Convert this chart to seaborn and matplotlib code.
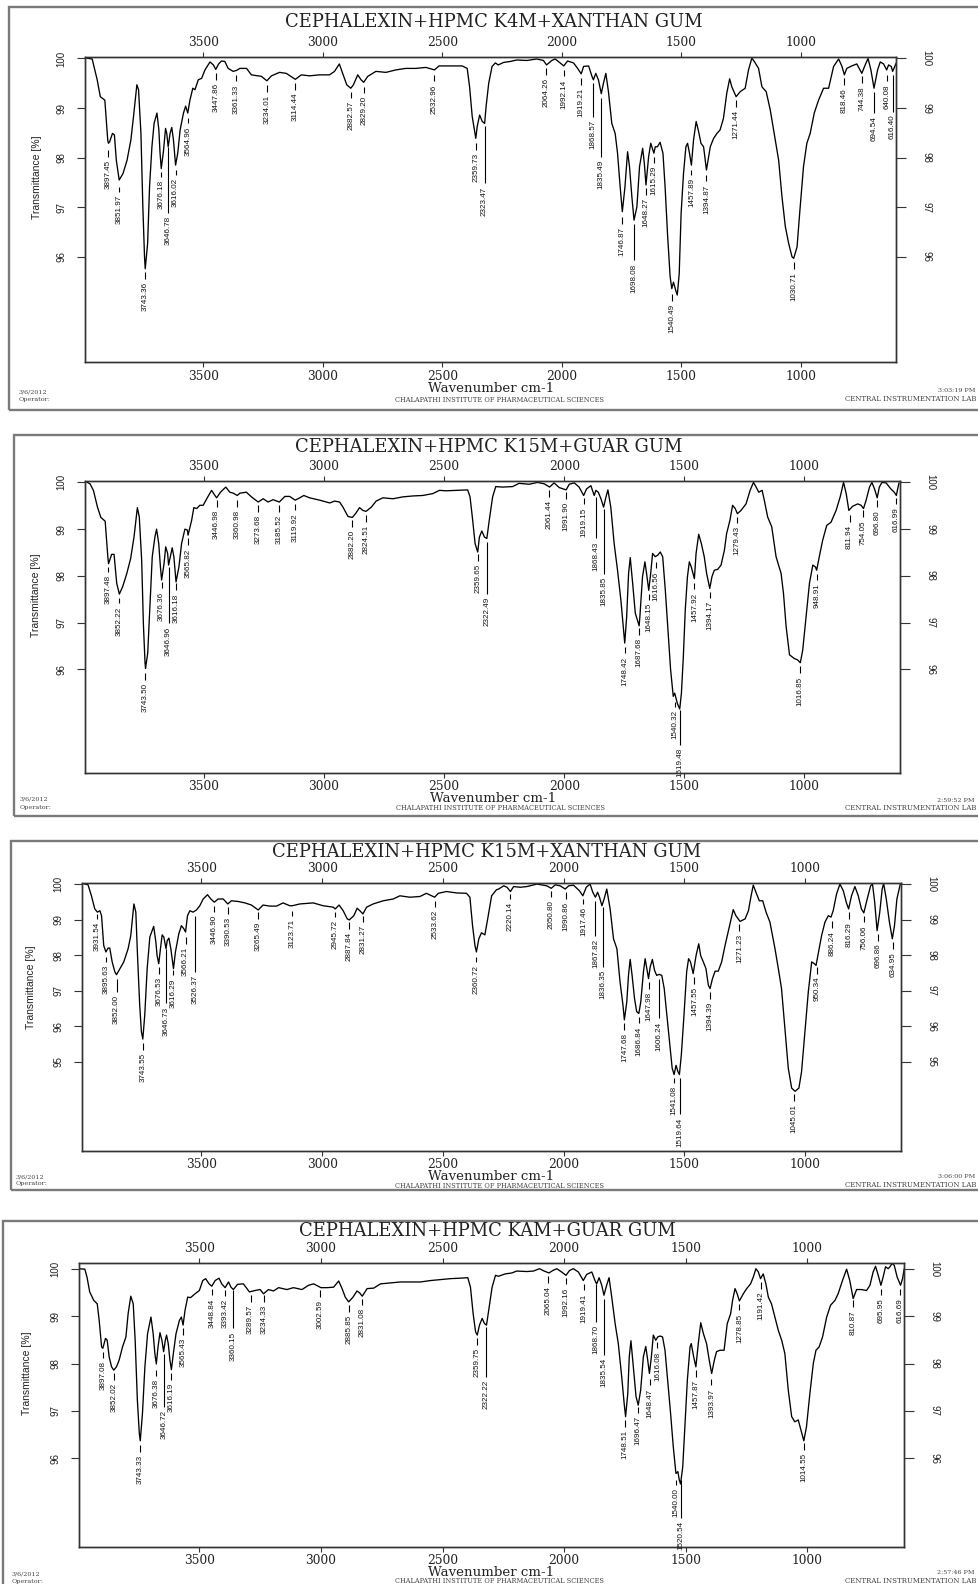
import matplotlib
matplotlib.use("Agg")
import matplotlib.pyplot as plt
from matplotlib.patches import Rectangle
import seaborn as sns
import pandas as pd

sns.set_style("ticks")
plt.rcParams["font.family"] = ["DejaVu Serif"]
SANS = ["Liberation Sans Narrow", "Liberation Sans", "DejaVu Sans"]

FIG_W, FIG_H = 979, 1584

titles = [
    "CEPHALEXIN+HPMC K4M+XANTHAN GUM",
    "CEPHALEXIN+HPMC K15M+GUAR GUM",
    "CEPHALEXIN+HPMC K15M+XANTHAN GUM",
    "CEPHALEXIN+HPMC KAM+GUAR GUM",
]
run_times = ["3:03:19 PM", "2:59:52 PM", "3:06:00 PM", "2:57:46 PM"]
run_date = "3/6/2012"
x_ticks = [3500, 3000, 2500, 2000, 1500, 1000]

# ---- spectrum 1: K4M + xanthan gum ----
k4m_xg_wn = [
    3992, 3965, 3944, 3931, 3912, 3900, 3897, 3892, 3880, 3872,
    3864, 3852, 3836, 3819, 3803, 3792, 3778, 3771, 3761, 3753,
    3746, 3743, 3733, 3725, 3715, 3706, 3694, 3686, 3681, 3676,
    3667, 3658, 3653, 3647, 3639, 3632, 3625, 3616, 3607, 3597,
    3583, 3574, 3565, 3556, 3544, 3535, 3521, 3507, 3493, 3472,
    3458, 3448, 3436, 3424, 3410, 3396, 3375, 3361, 3347, 3319,
    3299, 3257, 3234, 3215, 3181, 3153, 3115, 3090, 3056, 3014,
    2972, 2951, 2931, 2917, 2900, 2883, 2872, 2854, 2840, 2829,
    2812, 2778, 2736, 2694, 2653, 2611, 2569, 2533, 2514, 2458,
    2417, 2396, 2386, 2375, 2360, 2354, 2344, 2333, 2323, 2317,
    2306, 2292, 2278, 2266, 2244, 2216, 2188, 2146, 2105, 2077,
    2064, 2042, 2028, 2007, 1992, 1976, 1951, 1934, 1919, 1909,
    1888, 1874, 1868, 1858, 1847, 1835, 1826, 1816, 1805, 1791,
    1777, 1767, 1756, 1747, 1736, 1725, 1717, 1707, 1698, 1686,
    1675, 1662, 1655, 1648, 1637, 1628, 1615, 1609, 1600, 1589,
    1577, 1568, 1558, 1547, 1540, 1533, 1524, 1517, 1509, 1501,
    1491, 1481, 1474, 1466, 1458, 1449, 1438, 1428, 1418, 1407,
    1395, 1379, 1365, 1351, 1338, 1324, 1310, 1298, 1289, 1271,
    1254, 1233, 1219, 1205, 1191, 1177, 1163, 1145, 1128, 1107,
    1093, 1079, 1065, 1051, 1037, 1030, 1016, 1005, 989, 975,
    961, 944, 926, 905, 884, 863, 842, 828, 818, 808,
    787, 766, 745, 731, 719, 707, 694, 679, 668, 654,
    641, 633, 622, 616, 601,
]
k4m_xg_t = [
    100.01, 99.99, 99.57, 99.23, 99.16, 98.36, 98.29, 98.32, 98.49, 98.46,
    97.95, 97.55, 97.68, 97.95, 98.36, 98.83, 99.47, 99.37, 98.49, 97.01,
    96.00, 95.76, 96.27, 97.41, 98.22, 98.69, 98.90, 98.56, 98.09, 97.78,
    98.12, 98.59, 98.49, 98.22, 98.49, 98.61, 98.36, 97.85, 98.09, 98.56,
    98.90, 99.04, 98.90, 99.16, 99.40, 99.37, 99.57, 99.60, 99.77, 99.93,
    99.87, 99.78, 99.89, 99.95, 99.94, 99.80, 99.74, 99.76, 99.80, 99.80,
    99.67, 99.64, 99.55, 99.65, 99.72, 99.70, 99.58, 99.67, 99.65, 99.67,
    99.67, 99.74, 99.89, 99.70, 99.47, 99.40, 99.47, 99.67, 99.57, 99.52,
    99.64, 99.74, 99.72, 99.77, 99.80, 99.80, 99.82, 99.77, 99.85, 99.85,
    99.85, 99.80, 99.43, 98.83, 98.39, 98.63, 98.86, 98.73, 98.69, 99.03,
    99.50, 99.84, 99.91, 99.87, 99.92, 99.94, 99.97, 99.96, 99.99, 99.96,
    99.87, 99.96, 99.99, 99.91, 99.85, 99.95, 99.91, 99.80, 99.69, 99.84,
    99.85, 99.64, 99.57, 99.70, 99.57, 99.29, 99.50, 99.70, 99.33, 98.69,
    98.49, 98.09, 97.41, 96.91, 97.41, 98.12, 97.82, 97.21, 96.74, 97.01,
    97.82, 98.19, 97.89, 97.45, 98.02, 98.29, 98.09, 98.22, 98.22, 98.31,
    98.09, 97.41, 96.47, 95.60, 95.36, 95.49, 95.33, 95.23, 95.66, 96.88,
    97.68, 98.22, 98.29, 98.09, 97.85, 98.36, 98.73, 98.53, 98.29, 98.22,
    97.75, 98.22, 98.39, 98.49, 98.56, 98.79, 99.30, 99.59, 99.43, 99.23,
    99.33, 99.40, 99.77, 100.01, 99.91, 99.80, 99.43, 99.33, 98.96, 98.36,
    97.95, 97.21, 96.61, 96.27, 96.00, 95.97, 96.20, 96.88, 97.82, 98.29,
    98.49, 98.90, 99.16, 99.40, 99.40, 99.84, 99.99, 99.84, 99.67, 99.80,
    99.85, 99.89, 99.70, 99.87, 100.00, 99.77, 99.40, 99.77, 99.93, 99.89,
    99.77, 99.87, 99.84, 99.74, 99.91,
]
k4m_xg_peaks = [
    3897.45, 3851.97, 3743.36, 3676.18, 3646.78, 3616.02, 3564.96, 3447.86, 3361.33,
    3234.01, 3114.44, 2882.57, 2829.20, 2532.96, 2359.73, 2323.47, 2064.26, 1992.14,
    1919.21, 1868.57, 1835.49, 1746.87, 1698.08, 1648.27, 1615.29, 1540.49, 1457.89,
    1394.87, 1271.44, 1030.71, 818.46, 744.38, 694.54, 640.08, 616.40,
]
k4m_xg_mark_top = [
    98.15, 97.41, 95.70, 97.72, 98.22, 97.75, 98.79, 99.70, 99.67,
    99.47, 99.50, 99.33, 99.43, 99.67, 98.29, 98.63, 99.80, 99.77,
    99.60, 99.50, 99.20, 96.81, 96.67, 97.38, 98.02, 95.26, 97.75,
    97.65, 99.16, 95.90, 99.60, 99.64, 99.33, 99.67, 99.67,
]
k4m_xg_mark_end = [
    98.02, 97.31, 95.56, 97.62, 96.88, 97.65, 98.69, 99.57, 99.54,
    99.33, 99.37, 99.20, 99.30, 99.54, 98.15, 97.48, 99.67, 99.64,
    99.47, 98.83, 98.02, 96.67, 95.93, 97.25, 97.89, 95.12, 97.65,
    97.52, 99.03, 95.76, 99.47, 99.50, 98.90, 99.54, 98.93,
]

# ---- spectrum 2: K15M + guar gum ----
k15m_gg_wn = [
    3992, 3974, 3960, 3943, 3929, 3911, 3900, 3897, 3884, 3874,
    3863, 3852, 3838, 3821, 3805, 3791, 3777, 3769, 3759, 3752,
    3745, 3743, 3734, 3724, 3715, 3704, 3697, 3688, 3681, 3676,
    3666, 3659, 3651, 3647, 3637, 3632, 3625, 3616, 3604, 3593,
    3579, 3569, 3566, 3551, 3542, 3530, 3517, 3503, 3486, 3468,
    3454, 3447, 3431, 3409, 3392, 3378, 3361, 3350, 3323, 3302,
    3274, 3253, 3233, 3212, 3186, 3163, 3143, 3120, 3101, 3084,
    3060, 3018, 2976, 2956, 2935, 2921, 2900, 2882, 2869, 2852,
    2838, 2825, 2803, 2783, 2755, 2713, 2672, 2630, 2589, 2547,
    2519, 2492, 2450, 2402, 2392, 2381, 2371, 2360, 2353, 2343,
    2332, 2322, 2312, 2298, 2285, 2257, 2215, 2188, 2146, 2111,
    2083, 2061, 2042, 2021, 1992, 1979, 1958, 1938, 1919, 1907,
    1889, 1875, 1868, 1858, 1847, 1836, 1826, 1818, 1806, 1792,
    1778, 1764, 1748, 1740, 1732, 1725, 1715, 1704, 1688, 1685,
    1674, 1664, 1657, 1648, 1640, 1632, 1621, 1611, 1600, 1590,
    1579, 1568, 1557, 1546, 1540, 1529, 1519, 1512, 1504, 1496,
    1487, 1479, 1471, 1458, 1451, 1440, 1429, 1417, 1407, 1394,
    1385, 1375, 1361, 1347, 1333, 1324, 1310, 1299, 1288, 1279,
    1264, 1243, 1226, 1212, 1201, 1190, 1176, 1167, 1153, 1136,
    1118, 1097, 1087, 1076, 1062, 1042, 1028, 1017, 1007, 993,
    979, 965, 954, 949, 938, 924, 907, 889, 868, 851,
    837, 826, 815, 799, 778, 764, 754, 743, 729, 719,
    708, 697, 688, 677, 660, 640, 626, 617, 613, 606,
]
k15m_gg_t = [
    100.02, 99.97, 99.83, 99.47, 99.25, 99.17, 98.41, 98.26, 98.46, 98.46,
    97.84, 97.61, 97.77, 98.05, 98.37, 98.83, 99.46, 99.26, 98.33, 96.98,
    96.13, 96.02, 96.34, 97.41, 98.41, 98.83, 99.00, 98.69, 98.19, 97.91,
    98.26, 98.62, 98.48, 98.23, 98.48, 98.60, 98.41, 97.87, 98.19, 98.69,
    99.00, 98.98, 98.87, 99.19, 99.46, 99.44, 99.51, 99.51, 99.67, 99.83,
    99.72, 99.67, 99.79, 99.90, 99.79, 99.77, 99.72, 99.77, 99.79, 99.69,
    99.58, 99.65, 99.58, 99.63, 99.58, 99.70, 99.70, 99.62, 99.67, 99.72,
    99.67, 99.62, 99.56, 99.60, 99.58, 99.47, 99.27, 99.25, 99.33, 99.46,
    99.40, 99.38, 99.47, 99.60, 99.67, 99.65, 99.69, 99.71, 99.72, 99.76,
    99.83, 99.82, 99.83, 99.84, 99.69, 99.19, 98.69, 98.51, 98.83, 98.96,
    98.83, 98.80, 99.19, 99.69, 99.91, 99.90, 99.91, 99.98, 99.96, 100.00,
    99.97, 99.90, 99.99, 99.89, 99.84, 99.96, 99.99, 99.90, 99.72, 99.86,
    99.93, 99.72, 99.83, 99.79, 99.65, 99.47, 99.69, 99.84, 99.47, 98.69,
    98.12, 97.48, 96.56, 97.12, 98.05, 98.39, 97.84, 97.20, 96.93, 97.12,
    97.98, 98.30, 98.05, 97.69, 98.05, 98.48, 98.41, 98.44, 98.51, 98.41,
    97.69, 96.84, 95.99, 95.42, 95.49, 95.27, 95.15, 95.49, 96.27, 97.27,
    97.98, 98.30, 98.19, 97.94, 98.48, 98.89, 98.69, 98.41, 98.05, 97.73,
    97.98, 98.12, 98.14, 98.23, 98.55, 98.90, 99.19, 99.51, 99.44, 99.33,
    99.40, 99.54, 99.83, 100.00, 99.90, 99.79, 99.83, 99.62, 99.26, 99.05,
    98.41, 98.05, 97.62, 96.91, 96.31, 96.23, 96.20, 96.14, 96.41, 97.12,
    97.84, 98.23, 98.19, 98.12, 98.41, 98.76, 99.08, 99.15, 99.40, 99.69,
    100.00, 99.76, 99.40, 99.49, 99.54, 99.51, 99.44, 99.62, 99.90, 100.00,
    99.86, 99.67, 99.90, 100.00, 99.99, 99.86, 99.79, 99.72, 99.83, 99.99,
]
k15m_gg_peaks = [
    3897.48, 3852.22, 3743.50, 3676.36, 3646.96, 3616.18, 3565.82, 3446.98, 3360.98,
    3273.68, 3185.52, 3119.92, 2882.20, 2824.51, 2359.65, 2322.49, 2061.44, 1991.90,
    1919.15, 1868.43, 1835.85, 1748.42, 1687.68, 1648.15, 1616.56, 1540.32, 1519.48,
    1457.92, 1394.17, 1279.43, 1016.85, 948.91, 811.94, 754.05, 696.80, 616.99,
]
k15m_gg_mark_top = [
    98.19, 97.52, 95.91, 97.87, 98.19, 97.84, 98.80, 99.62, 99.62,
    99.51, 99.51, 99.54, 99.19, 99.30, 98.46, 98.73, 99.83, 99.79,
    99.67, 99.69, 99.42, 96.48, 96.88, 97.62, 98.30, 95.31, 95.13,
    97.85, 97.66, 99.27, 96.06, 98.05, 99.30, 99.40, 99.62, 99.67,
]
k15m_gg_mark_end = [
    98.09, 97.41, 95.77, 97.73, 96.98, 97.69, 98.65, 99.47, 99.47,
    99.37, 99.37, 99.40, 99.05, 99.15, 98.32, 97.62, 99.69, 99.65,
    99.53, 98.80, 98.05, 96.34, 96.73, 97.48, 98.16, 95.20, 94.38,
    97.71, 97.52, 99.13, 95.91, 97.91, 99.15, 99.26, 99.47, 99.53,
]

# ---- spectrum 3: K15M + xanthan gum ----
k15m_xg_wn = [
    3994, 3970, 3956, 3942, 3931, 3921, 3914, 3905, 3896, 3887,
    3880, 3870, 3859, 3852, 3838, 3822, 3804, 3793, 3780, 3772,
    3765, 3756, 3749, 3743, 3735, 3725, 3714, 3698, 3689, 3684,
    3677, 3670, 3663, 3656, 3647, 3642, 3635, 3627, 3616, 3608,
    3594, 3583, 3573, 3566, 3558, 3548, 3535, 3521, 3507, 3493,
    3475, 3461, 3447, 3431, 3410, 3391, 3376, 3348, 3320, 3293,
    3265, 3245, 3217, 3189, 3162, 3134, 3124, 3093, 3037, 2996,
    2954, 2946, 2930, 2913, 2896, 2888, 2869, 2855, 2844, 2831,
    2816, 2789, 2747, 2706, 2678, 2637, 2595, 2568, 2534, 2519,
    2485, 2443, 2402, 2388, 2377, 2367, 2361, 2351, 2340, 2326,
    2312, 2298, 2278, 2269, 2248, 2234, 2220, 2207, 2179, 2152,
    2110, 2069, 2051, 2034, 2014, 1993, 1979, 1959, 1934, 1920,
    1906, 1890, 1879, 1868, 1859, 1851, 1841, 1832, 1821, 1807,
    1793, 1779, 1766, 1754, 1748, 1738, 1731, 1724, 1716, 1706,
    1697, 1688, 1680, 1669, 1662, 1655, 1648, 1641, 1632, 1623,
    1614, 1604, 1593, 1583, 1572, 1561, 1550, 1542, 1534, 1526,
    1520, 1512, 1501, 1490, 1482, 1474, 1463, 1451, 1440, 1432,
    1421, 1410, 1400, 1393, 1383, 1372, 1359, 1345, 1331, 1317,
    1297, 1286, 1269, 1248, 1234, 1223, 1214, 1203, 1189, 1175,
    1161, 1145, 1124, 1108, 1097, 1083, 1069, 1055, 1041, 1025,
    1014, 1000, 986, 972, 961, 954, 945, 931, 917, 903,
    892, 883, 869, 855, 841, 828, 819, 807, 793, 779,
    766, 756, 742, 728, 720, 711, 701, 690, 680, 674,
    663, 650, 638, 629, 619, 605,
]
k15m_xg_t = [
    100.02, 99.98, 99.67, 99.30, 99.21, 99.25, 99.11, 98.27, 98.09, 98.20,
    98.20, 97.81, 97.53, 97.45, 97.62, 97.81, 98.18, 98.55, 99.44, 99.21,
    97.99, 96.60, 95.85, 95.64, 96.32, 97.62, 98.51, 98.81, 98.37, 97.99,
    97.76, 98.18, 98.57, 98.51, 98.18, 98.41, 98.48, 98.18, 97.62, 98.09,
    98.60, 98.83, 98.74, 98.65, 99.11, 99.25, 99.21, 99.27, 99.39, 99.58,
    99.70, 99.58, 99.49, 99.58, 99.58, 99.44, 99.53, 99.51, 99.47, 99.41,
    99.27, 99.41, 99.38, 99.38, 99.47, 99.39, 99.39, 99.44, 99.47, 99.39,
    99.35, 99.30, 99.41, 99.25, 99.02, 98.99, 99.11, 99.32, 99.25, 99.16,
    99.35, 99.44, 99.53, 99.58, 99.67, 99.63, 99.65, 99.74, 99.63, 99.74,
    99.79, 99.75, 99.74, 99.63, 98.83, 98.27, 98.09, 98.46, 98.63, 98.57,
    99.11, 99.67, 99.84, 99.86, 99.95, 99.91, 99.79, 99.93, 99.91, 99.93,
    100.00, 99.95, 99.88, 99.98, 99.95, 99.86, 99.95, 99.97, 99.81, 99.67,
    99.91, 100.00, 99.77, 99.63, 99.77, 99.63, 99.39, 99.58, 99.86, 99.30,
    98.46, 98.18, 97.25, 96.60, 96.18, 96.69, 97.43, 97.88, 97.43, 96.78,
    96.41, 96.36, 96.69, 97.53, 97.90, 97.62, 97.34, 97.67, 97.88, 97.57,
    97.43, 97.46, 97.43, 97.06, 96.32, 95.57, 94.82, 94.64, 94.90, 94.72,
    94.64, 95.20, 96.32, 97.53, 97.90, 97.81, 97.48, 97.99, 98.32, 97.99,
    97.81, 97.62, 97.15, 97.06, 97.34, 97.55, 97.55, 97.81, 98.27, 98.69,
    99.28, 99.11, 98.95, 99.02, 99.25, 99.67, 99.97, 99.77, 99.53, 99.53,
    99.21, 98.93, 98.18, 97.53, 97.06, 95.94, 94.82, 94.26, 94.17, 94.26,
    94.72, 95.85, 96.97, 97.81, 97.76, 97.71, 98.04, 98.55, 98.93, 99.11,
    99.07, 99.25, 99.72, 100.00, 99.81, 99.47, 99.30, 99.67, 99.93, 99.67,
    99.30, 99.19, 99.58, 99.95, 100.00, 99.49, 98.69, 99.21, 99.86, 100.02,
    99.58, 98.93, 98.46, 98.83, 99.58, 100.00,
]
k15m_xg_peaks = [
    3931.54, 3895.63, 3852.00, 3743.55, 3676.53, 3646.73, 3616.29, 3566.21, 3526.37,
    3446.90, 3390.53, 3265.49, 3123.71, 2945.72, 2887.84, 2831.27, 2533.62, 2360.72,
    2220.14, 2050.80, 1990.86, 1917.46, 1867.82, 1836.35, 1747.68, 1686.84, 1647.98,
    1606.24, 1541.08, 1519.64, 1457.55, 1394.39, 1271.23, 1045.01, 950.34, 886.24,
    816.29, 756.06, 696.86, 634.95,
]
k15m_xg_mark_top = [
    99.16, 97.95, 97.34, 95.52, 97.67, 98.18, 97.57, 98.51, 99.11,
    99.39, 99.35, 99.21, 99.25, 99.21, 98.93, 99.11, 99.53, 97.95,
    99.72, 99.81, 99.77, 99.58, 99.53, 99.35, 96.08, 96.27, 97.25,
    97.34, 94.54, 94.55, 97.39, 96.97, 98.88, 94.08, 97.67, 98.95,
    99.21, 99.11, 98.60, 98.37,
]
k15m_xg_mark_end = [
    99.02, 97.81, 96.97, 95.34, 97.48, 96.64, 97.43, 98.32, 97.53,
    99.21, 99.16, 99.02, 99.11, 99.07, 98.74, 98.93, 99.35, 97.81,
    99.58, 99.63, 99.58, 99.44, 98.55, 97.67, 95.90, 96.08, 97.06,
    96.22, 94.40, 93.52, 97.20, 96.78, 98.69, 93.89, 97.48, 98.76,
    99.02, 98.93, 98.41, 98.18,
]

# ---- spectrum 4: KAM + guar gum ----
kam_gg_wn = [
    3997, 3971, 3962, 3951, 3934, 3920, 3912, 3902, 3897, 3886,
    3879, 3871, 3861, 3852, 3841, 3830, 3816, 3802, 3793, 3782,
    3772, 3764, 3755, 3747, 3743, 3734, 3724, 3713, 3699, 3690,
    3683, 3677, 3670, 3662, 3654, 3647, 3640, 3635, 3628, 3621,
    3615, 3607, 3596, 3582, 3574, 3567, 3559, 3548, 3536, 3518,
    3500, 3486, 3474, 3460, 3449, 3435, 3419, 3408, 3394, 3380,
    3370, 3360, 3343, 3319, 3294, 3271, 3250, 3236, 3216, 3195,
    3174, 3140, 3113, 3078, 3051, 3030, 3000, 2975, 2948, 2927,
    2913, 2900, 2886, 2868, 2852, 2841, 2830, 2810, 2783, 2755,
    2714, 2673, 2632, 2591, 2549, 2508, 2467, 2426, 2396, 2385,
    2374, 2364, 2357, 2348, 2337, 2327, 2319, 2308, 2296, 2282,
    2270, 2242, 2215, 2195, 2153, 2126, 2101, 2082, 2062, 2047,
    2030, 2010, 1992, 1978, 1962, 1941, 1921, 1907, 1886, 1873,
    1866, 1856, 1845, 1836, 1825, 1815, 1804, 1790, 1777, 1763,
    1753, 1747, 1738, 1732, 1725, 1715, 1704, 1695, 1685, 1674,
    1664, 1656, 1649, 1641, 1633, 1623, 1615, 1605, 1595, 1585,
    1574, 1562, 1551, 1540, 1532, 1526, 1521, 1512, 1503, 1493,
    1482, 1477, 1467, 1458, 1448, 1438, 1427, 1414, 1403, 1393,
    1382, 1373, 1359, 1342, 1329, 1315, 1307, 1297, 1288, 1279,
    1263, 1249, 1233, 1222, 1211, 1201, 1192, 1181, 1170, 1160,
    1147, 1133, 1119, 1105, 1092, 1078, 1064, 1051, 1037, 1026,
    1014, 1003, 989, 975, 964, 951, 937, 920, 904, 886,
    873, 855, 838, 825, 811, 797, 777, 756, 742, 729,
    719, 708, 697, 688, 678, 667, 660, 651, 642, 630,
    616, 608, 601,
]
kam_gg_t = [
    100.00, 99.99, 99.82, 99.51, 99.33, 99.26, 98.91, 98.35, 98.32, 98.53,
    98.49, 98.14, 97.93, 97.86, 97.93, 98.07, 98.35, 98.56, 99.05, 99.42,
    99.26, 98.49, 97.23, 96.53, 96.37, 96.95, 97.93, 98.63, 98.98, 98.63,
    98.21, 97.99, 98.35, 98.65, 98.49, 98.25, 98.49, 98.60, 98.42, 98.07,
    97.87, 98.21, 98.63, 98.91, 98.98, 98.81, 99.12, 99.40, 99.39, 99.47,
    99.54, 99.75, 99.79, 99.68, 99.63, 99.75, 99.80, 99.68, 99.60, 99.72,
    99.61, 99.56, 99.67, 99.68, 99.51, 99.54, 99.56, 99.47, 99.56, 99.53,
    99.60, 99.56, 99.60, 99.56, 99.65, 99.68, 99.60, 99.60, 99.61, 99.74,
    99.58, 99.40, 99.30, 99.40, 99.53, 99.49, 99.42, 99.58, 99.59, 99.68,
    99.70, 99.72, 99.72, 99.72, 99.75, 99.77, 99.79, 99.80, 99.81, 99.61,
    99.05, 98.67, 98.60, 98.81, 98.95, 98.84, 98.81, 99.19, 99.61, 99.86,
    99.84, 99.89, 99.91, 99.95, 99.94, 99.95, 100.00, 99.95, 99.91, 99.96,
    100.00, 99.93, 99.86, 99.96, 100.00, 99.93, 99.75, 99.88, 99.93, 99.75,
    99.68, 99.81, 99.65, 99.44, 99.65, 99.81, 99.40, 98.84, 98.42, 97.72,
    97.16, 96.88, 97.37, 98.14, 98.48, 97.93, 97.30, 97.12, 97.44, 98.14,
    98.36, 98.07, 97.79, 98.14, 98.60, 98.49, 98.56, 98.58, 98.56, 98.28,
    97.65, 96.95, 96.25, 95.68, 95.72, 95.54, 95.46, 95.82, 96.67, 97.65,
    98.35, 98.42, 98.14, 97.93, 98.42, 98.86, 98.63, 98.42, 98.07, 97.79,
    98.07, 98.25, 98.28, 98.28, 98.84, 99.05, 99.33, 99.58, 99.47, 99.32,
    99.47, 99.58, 99.68, 99.82, 100.00, 99.93, 99.79, 99.89, 99.68, 99.40,
    99.26, 98.98, 98.70, 98.49, 98.21, 97.44, 96.88, 96.77, 96.81, 96.60,
    96.37, 96.67, 97.37, 98.00, 98.28, 98.35, 98.56, 98.98, 99.23, 99.33,
    99.47, 99.75, 99.99, 99.75, 99.37, 99.56, 99.56, 99.54, 99.65, 99.93,
    100.05, 99.86, 99.65, 99.82, 100.04, 100.00, 100.04, 100.11, 100.07, 99.82,
    99.65, 99.79, 100.00,
]
kam_gg_peaks = [
    3897.08, 3852.02, 3743.33, 3676.38, 3646.72, 3616.19, 3565.43, 3448.84, 3393.42,
    3360.15, 3289.57, 3234.33, 3002.59, 2885.85, 2831.08, 2359.75, 2322.22, 2065.04,
    1992.16, 1919.41, 1868.70, 1835.54, 1748.51, 1696.47, 1648.47, 1616.08, 1540.00,
    1520.54, 1457.87, 1393.97, 1278.85, 1191.42, 1014.55, 810.87, 695.95, 616.69,
]
kam_gg_mark_top = [
    98.25, 97.79, 96.28, 97.87, 98.21, 97.79, 98.74, 99.58, 99.56,
    99.54, 99.44, 99.44, 99.54, 99.23, 99.37, 98.53, 98.77, 99.84,
    99.81, 99.68, 99.68, 99.37, 96.81, 97.09, 97.68, 98.46, 95.54,
    95.54, 97.86, 97.68, 99.26, 99.72, 96.32, 99.33, 99.58, 99.58,
]
kam_gg_mark_end = [
    98.11, 97.65, 96.14, 97.73, 97.09, 97.65, 98.60, 99.44, 99.42,
    98.74, 99.30, 99.30, 99.40, 99.09, 99.23, 98.39, 97.72, 99.70,
    99.67, 99.54, 98.88, 98.18, 96.67, 96.95, 97.54, 98.32, 95.44,
    94.74, 97.72, 97.54, 99.12, 99.58, 96.18, 99.19, 99.44, 99.44,
]

y_limits = [(93.88, 100.03), (93.78, 100.03), (92.49, 100.03), (94.13, 100.12)]
y_ticks = [[96, 97, 98, 99, 100], [96, 97, 98, 99, 100],
           [95, 96, 97, 98, 99, 100], [96, 97, 98, 99, 100]]

# page layout of every printed sheet, in pixels of the output image
layout = [
    dict(box=(9, 7, 410), ax=(85, 57, 896, 362), title=(494, 22), ylab=(37, 177),
         xlab=(491, 389), date=(19, 392), oper=(19, 400), inst=(500, 400),
         time=(975, 391), lab=(976, 399)),
    dict(box=(14, 435, 816), ax=(85, 481, 900, 773), title=(489, 447), ylab=(36, 595),
         xlab=(493, 799), date=(20, 799), oper=(20, 807), inst=(501, 808),
         time=(975, 800), lab=(976, 808)),
    dict(box=(11, 841, 1190), ax=(82, 883, 901, 1151), title=(487, 852), ylab=(31, 987),
         xlab=(491, 1177), date=(16, 1177), oper=(16, 1184), inst=(500, 1186),
         time=(975, 1177), lab=(976, 1185)),
    dict(box=(3, 1221, 1600), ax=(79, 1263, 904, 1547), title=(487, 1231), ylab=(27, 1373),
         xlab=(491, 1573), date=(12, 1574), oper=(12, 1581), inst=(500, 1581),
         time=(975, 1573), lab=(976, 1581)),
]


def fx(px):
    return px / FIG_W


def fy(py):
    return 1 - py / FIG_H


def style_side(ax, side):
    for tk in ax.yaxis.get_major_ticks():
        lbl = tk.label1 if side == "left" else tk.label2
        lbl.set_fontfamily(SANS)
        lbl.set_rotation(90 if side == "left" else 270)
        lbl.set_va("center")


def draw_panel(fig, lay, title, run_time, wn, tr, peaks, mark_top, mark_end, ylim, yticks):
    # printed sheet frame
    x0, yt, yb = lay["box"]
    fig.add_artist(Rectangle((fx(x0), fy(yb)), (FIG_W + 30 - x0) / FIG_W, (yb - yt) / FIG_H,
                             transform=fig.transFigure, fill=False, ec="#7a7a7a",
                             lw=1.7, clip_on=False))

    l, t, r, b = lay["ax"]
    ax = fig.add_axes([fx(l), fy(b), (r - l) / FIG_W, (b - t) / FIG_H])
    df = pd.DataFrame({"wavenumber": wn, "transmittance": tr})
    sns.lineplot(data=df, x="wavenumber", y="transmittance", ax=ax, sort=False,
                 estimator=None, color="black", lw=0.95)
    ax.set_xlim(3995, 602)
    ax.set_ylim(*ylim)
    ax.set_xlabel("")
    ax.set_ylabel("")
    ax.set_xticks(x_ticks)
    ax.set_yticks(yticks)
    ax.tick_params(axis="x", direction="out", length=3.6, width=0.8, color="#333333",
                   top=True, bottom=True, labeltop=True, labelbottom=True,
                   labelsize=8.8, labelcolor="#222222", pad=1.8)
    ax.tick_params(axis="y", direction="out", length=5.8, width=0.8, color="#333333",
                   left=True, right=False, labelleft=True, labelright=False,
                   labelsize=7, labelcolor="#222222", pad=7.8)
    style_side(ax, "left")

    # right-hand transmittance scale
    axr = ax.twinx()
    axr.set_ylim(*ylim)
    axr.set_yticks(yticks)
    axr.tick_params(axis="y", direction="out", length=7.2, width=0.8, color="#333333",
                    right=True, labelright=True, labelsize=7, labelcolor="#222222", pad=11)
    style_side(axr, "right")

    for a in (ax, axr):
        for s in a.spines.values():
            s.set_color("#333333")
            s.set_linewidth(1.0)

    # peak markers with their wavenumber labels
    ax.vlines(peaks, mark_end, mark_top, colors="black", lw=0.8)
    for p, e in zip(peaks, mark_end):
        ax.annotate(f"{p:.2f}", xy=(p, e), xytext=(0, -2.2), textcoords="offset points",
                    rotation=90, ha="center", va="top", fontsize=5.8, family=SANS,
                    color="#111111")

    # sheet texts
    fig.text(fx(lay["title"][0]), fy(lay["title"][1]), title, ha="center", va="center",
             fontsize=13, color="#222222")
    fig.text(fx(lay["ylab"][0]), fy(lay["ylab"][1]), "Transmittance [%]", rotation=90,
             ha="center", va="center", fontsize=7.5, family=SANS, color="#222222")
    fig.text(fx(lay["xlab"][0]), fy(lay["xlab"][1]), "Wavenumber cm-1", ha="center",
             va="center", fontsize=9.6, color="#222222")
    fig.text(fx(lay["date"][0]), fy(lay["date"][1]), run_date, ha="left", va="center",
             fontsize=4.6, color="#444444")
    fig.text(fx(lay["oper"][0]), fy(lay["oper"][1]), "Operator:", ha="left", va="center",
             fontsize=4.6, color="#444444")
    fig.text(fx(lay["inst"][0]), fy(lay["inst"][1]),
             "CHALAPATHI INSTITUTE OF PHARMACEUTICAL SCIENCES", ha="center", va="center",
             fontsize=4.8, color="#444444")
    fig.text(fx(lay["time"][0]), fy(lay["time"][1]), run_time, ha="right", va="center",
             fontsize=4.6, color="#444444")
    fig.text(fx(lay["lab"][0]), fy(lay["lab"][1]), "CENTRAL INSTRUMENTATION LAB",
             ha="right", va="center", fontsize=5.0, color="#444444")
    return ax


spectra = [
    (k4m_xg_wn, k4m_xg_t, k4m_xg_peaks, k4m_xg_mark_top, k4m_xg_mark_end),
    (k15m_gg_wn, k15m_gg_t, k15m_gg_peaks, k15m_gg_mark_top, k15m_gg_mark_end),
    (k15m_xg_wn, k15m_xg_t, k15m_xg_peaks, k15m_xg_mark_top, k15m_xg_mark_end),
    (kam_gg_wn, kam_gg_t, kam_gg_peaks, kam_gg_mark_top, kam_gg_mark_end),
]

fig = plt.figure(figsize=(FIG_W / 100, FIG_H / 100), dpi=100)
fig.patch.set_facecolor("white")
for i, (wn, tr, peaks, mtop, mend) in enumerate(spectra):
    draw_panel(fig, layout[i], titles[i], run_times[i], wn, tr, peaks, mtop, mend,
               y_limits[i], y_ticks[i])

fig.savefig("out.png", dpi=100)
plt.close(fig)
